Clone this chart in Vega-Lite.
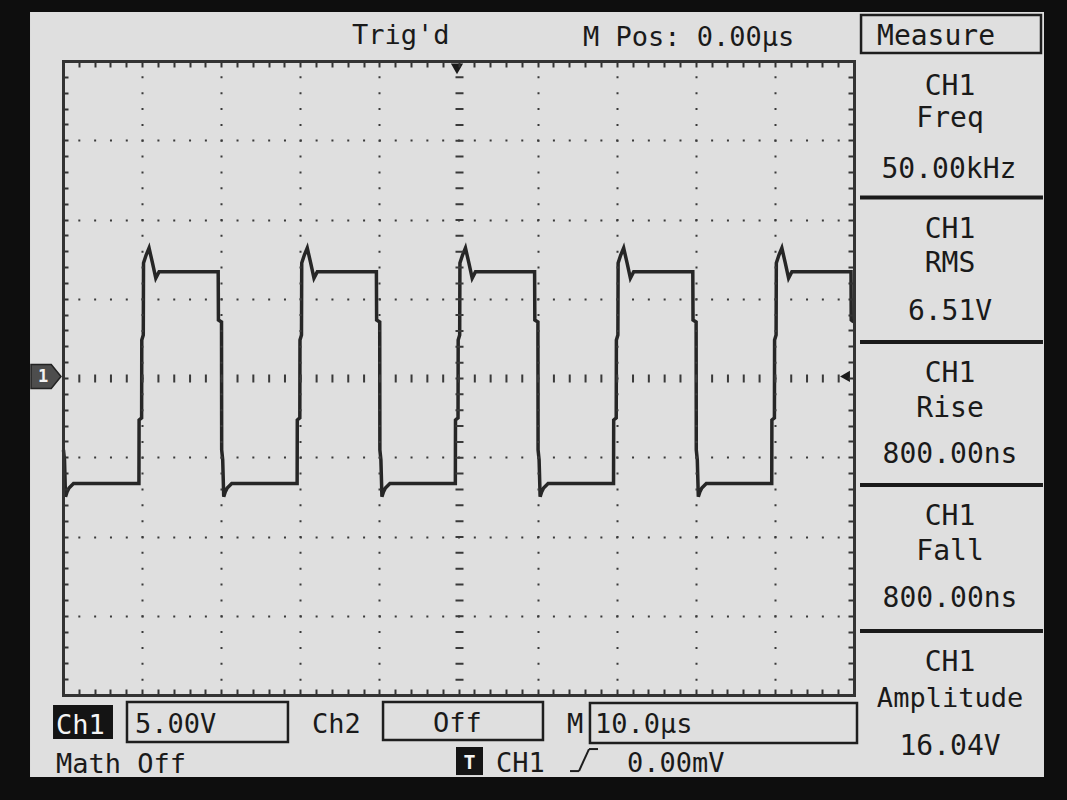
{
  "$schema": "https://vega.github.io/schema/vega-lite/v6.json",
  "width": 791,
  "height": 634,
  "autosize": {"type": "none"},
  "padding": {"left": 63, "top": 61, "right": 213, "bottom": 105},
  "background": "#0e0e0e",
  "data": {"values": [{"screen": "UTD oscilloscope"}]},
  "config": {
    "view": {"stroke": null},
    "text": {"font": "DejaVu Sans Mono", "fontSize": 27, "color": "#1a1a1a", "baseline": "alphabetic"}
  },
  "resolve": {"axis": {"x": "independent", "y": "independent"}},
  "layer": [
    {
      "mark": {"type": "rect", "fill": "#dfdfdf"},
      "encoding": {
        "x": {"datum": -54.17, "axis": null}, "x2": {"datum": 74.02},
        "y": {"datum": 23.09, "axis": null}, "y2": {"datum": -25.17}
      }
    },
    {
      "data": {"values": [
        {"t": -49.94, "v": -4.54}, {"t": -49.81, "v": -5.17}, {"t": -49.68, "v": -7.49}, {"t": -49.49, "v": -7.19}, {"t": -49.24, "v": -6.94}, {"t": -48.67, "v": -6.66},
        {"t": -40.40, "v": -6.66}, {"t": -40.38, "v": -2.65}, {"t": -40.06, "v": -2.52}, {"t": -40.04, "v": 2.40}, {"t": -39.85, "v": 2.71}, {"t": -39.82, "v": 7.26}, {"t": -39.49, "v": 7.76}, {"t": -39.12, "v": 8.20}, {"t": -38.69, "v": 7.26}, {"t": -38.27, "v": 6.30}, {"t": -37.85, "v": 6.71},
        {"t": -30.38, "v": 6.71}, {"t": -30.35, "v": 3.66}, {"t": -29.96, "v": 3.53}, {"t": -29.94, "v": -4.54}, {"t": -29.81, "v": -5.17}, {"t": -29.68, "v": -7.49}, {"t": -29.49, "v": -7.19}, {"t": -29.24, "v": -6.94}, {"t": -28.67, "v": -6.66},
        {"t": -20.40, "v": -6.66}, {"t": -20.38, "v": -2.65}, {"t": -20.06, "v": -2.52}, {"t": -20.04, "v": 2.40}, {"t": -19.85, "v": 2.71}, {"t": -19.82, "v": 7.26}, {"t": -19.49, "v": 7.76}, {"t": -19.12, "v": 8.20}, {"t": -18.69, "v": 7.26}, {"t": -18.27, "v": 6.30}, {"t": -17.85, "v": 6.71},
        {"t": -10.38, "v": 6.71}, {"t": -10.35, "v": 3.66}, {"t": -9.96, "v": 3.53}, {"t": -9.94, "v": -4.54}, {"t": -9.81, "v": -5.17}, {"t": -9.68, "v": -7.49}, {"t": -9.49, "v": -7.19}, {"t": -9.24, "v": -6.94}, {"t": -8.67, "v": -6.66},
        {"t": -0.40, "v": -6.66}, {"t": -0.38, "v": -2.65}, {"t": -0.06, "v": -2.52}, {"t": -0.04, "v": 2.40}, {"t": 0.15, "v": 2.71}, {"t": 0.18, "v": 7.26}, {"t": 0.51, "v": 7.76}, {"t": 0.88, "v": 8.20}, {"t": 1.31, "v": 7.26}, {"t": 1.73, "v": 6.30}, {"t": 2.15, "v": 6.71},
        {"t": 9.62, "v": 6.71}, {"t": 9.65, "v": 3.66}, {"t": 10.04, "v": 3.53}, {"t": 10.06, "v": -4.54}, {"t": 10.19, "v": -5.17}, {"t": 10.32, "v": -7.49}, {"t": 10.51, "v": -7.19}, {"t": 10.76, "v": -6.94}, {"t": 11.33, "v": -6.66},
        {"t": 19.60, "v": -6.66}, {"t": 19.62, "v": -2.65}, {"t": 19.94, "v": -2.52}, {"t": 19.96, "v": 2.40}, {"t": 20.15, "v": 2.71}, {"t": 20.18, "v": 7.26}, {"t": 20.51, "v": 7.76}, {"t": 20.88, "v": 8.20}, {"t": 21.31, "v": 7.26}, {"t": 21.73, "v": 6.30}, {"t": 22.15, "v": 6.71},
        {"t": 29.62, "v": 6.71}, {"t": 29.65, "v": 3.66}, {"t": 30.04, "v": 3.53}, {"t": 30.06, "v": -4.54}, {"t": 30.19, "v": -5.17}, {"t": 30.32, "v": -7.49}, {"t": 30.51, "v": -7.19}, {"t": 30.76, "v": -6.94}, {"t": 31.33, "v": -6.66},
        {"t": 39.60, "v": -6.66}, {"t": 39.62, "v": -2.65}, {"t": 39.94, "v": -2.52}, {"t": 39.96, "v": 2.40}, {"t": 40.15, "v": 2.71}, {"t": 40.18, "v": 7.26}, {"t": 40.51, "v": 7.76}, {"t": 40.88, "v": 8.20}, {"t": 41.31, "v": 7.26}, {"t": 41.73, "v": 6.30}, {"t": 42.15, "v": 6.71},
        {"t": 49.62, "v": 6.71}, {"t": 49.65, "v": 3.66}, {"t": 49.95, "v": 3.53}
      ]},
      "mark": {"type": "line", "strokeWidth": 3.5, "color": "#262626", "strokeJoin": "miter"},
      "encoding": {
        "x": {
          "field": "t", "type": "quantitative",
          "scale": {"domain": [-50, 50], "nice": false, "zero": false},
          "axis": {
            "orient": "bottom", "title": null, "labels": false, "grid": false, "zindex": 1,
            "values": [-50,-48,-46,-44,-42,-40,-38,-36,-34,-32,-30,-28,-26,-24,-22,-20,-18,-16,-14,-12,-10,-8,-6,-4,-2,0,2,4,6,8,10,12,14,16,18,20,22,24,26,28,30,32,34,36,38,40,42,44,46,48,50],
            "ticks": true, "tickSize": -6, "tickWidth": 2, "tickColor": "#333333",
            "domain": true, "domainColor": "#333333", "domainWidth": 3, "domainCap": "square"
          }
        },
        "y": {
          "field": "v", "type": "quantitative",
          "scale": {"domain": [-20, 20], "nice": false, "zero": false},
          "axis": {
            "orient": "left", "title": null, "labels": false, "grid": false, "zindex": 1,
            "values": [-20,-19,-18,-17,-16,-15,-14,-13,-12,-11,-10,-9,-8,-7,-6,-5,-4,-3,-2,-1,0,1,2,3,4,5,6,7,8,9,10,11,12,13,14,15,16,17,18,19,20],
            "ticks": true, "tickSize": -5, "tickWidth": 2, "tickColor": "#333333",
            "domain": true, "domainColor": "#333333", "domainWidth": 3, "domainCap": "square"
          }
        }
      }
    },
    {
      "mark": {"type": "point", "shape": "triangle-down", "size": 150, "filled": true, "color": "#1a1a1a", "opacity": 1},
      "encoding": {
        "x": {
          "datum": -0.19,
          "axis": {
            "orient": "top", "title": null, "labels": false, "grid": false, "zindex": 1,
            "values": [-50,-48,-46,-44,-42,-40,-38,-36,-34,-32,-30,-28,-26,-24,-22,-20,-18,-16,-14,-12,-10,-8,-6,-4,-2,0,2,4,6,8,10,12,14,16,18,20,22,24,26,28,30,32,34,36,38,40,42,44,46,48,50],
            "ticks": true, "tickSize": -6, "tickWidth": 2, "tickColor": "#333333",
            "domain": true, "domainColor": "#333333", "domainWidth": 3, "domainCap": "square"
          }
        },
        "y": {
          "datum": 19.5,
          "axis": {
            "orient": "right", "title": null, "labels": false, "grid": false, "zindex": 1,
            "values": [-20,-19,-18,-17,-16,-15,-14,-13,-12,-11,-10,-9,-8,-7,-6,-5,-4,-3,-2,-1,0,1,2,3,4,5,6,7,8,9,10,11,12,13,14,15,16,17,18,19,20],
            "ticks": true, "tickSize": -6, "tickWidth": 2, "tickColor": "#333333",
            "domain": true, "domainColor": "#333333", "domainWidth": 3, "domainCap": "square"
          }
        }
      }
    },
    {
      "mark": {"type": "point", "shape": "triangle-left", "size": 130, "filled": true, "color": "#1a1a1a", "opacity": 1},
      "encoding": {
        "x": {
          "datum": 48.86,
          "axis": {
            "orient": "bottom", "title": null, "labels": false, "ticks": false, "domain": false, "zindex": 1,
            "values": [-40, -30, -20, -10, 0, 10, 20, 30, 40],
            "grid": true, "gridColor": "#3a3a3a", "gridOpacity": 1,
            "gridDash": [2, 13.85], "gridDashOffset": 1,
            "gridWidth": {"condition": {"test": "datum.value === 0", "value": 8}, "value": 2}
          }
        },
        "y": {
          "datum": 0.1,
          "axis": {
            "orient": "left", "title": null, "labels": false, "ticks": false, "domain": false, "zindex": 1,
            "values": [-15, -10, -5, 0, 5, 10, 15],
            "grid": true, "gridColor": "#3a3a3a", "gridOpacity": 1,
            "gridDash": [2, 13.82], "gridDashOffset": 1,
            "gridWidth": {"condition": {"test": "datum.value === 0", "value": 8}, "value": 2}
          }
        }
      }
    },
    {
      "mark": {"type": "point", "shape": "M-1,-0.8L0.35,-0.8L1,0L0.35,0.8L-1,0.8Z", "size": 900, "filled": true, "fill": "#4d4d4d", "stroke": "#222222", "strokeWidth": 1.5, "opacity": 1},
      "encoding": {"x": {"datum": -52.15, "axis": null}, "y": {"datum": 0.09, "axis": null}}
    },
    {
      "mark": {"type": "text", "text": "1", "align": "center", "baseline": "middle", "fontSize": 17, "fontWeight": "bold", "color": "#f2f2f2"},
      "encoding": {"x": {"datum": -52.5, "axis": null}, "y": {"datum": 0.09, "axis": null}}
    },
    {
      "mark": {"type": "text", "text": "Trig'd", "align": "left"},
      "encoding": {"x": {"datum": -13.46, "axis": null}, "y": {"datum": 21.07, "axis": null}}
    },
    {
      "mark": {"type": "text", "text": "M Pos: 0.00µs", "align": "left"},
      "encoding": {"x": {"datum": 15.74, "axis": null}, "y": {"datum": 20.95, "axis": null}}
    },
    {
      "mark": {"type": "rect", "fill": "transparent", "stroke": "#1e1e1e", "strokeWidth": 2.5},
      "encoding": {"x": {"datum": 50.89, "axis": null}, "x2": {"datum": 73.64}, "y": {"datum": 22.90, "axis": null}, "y2": {"datum": 20.50}}
    },
    {
      "mark": {"type": "text", "text": "Measure", "align": "left", "fontSize": 28},
      "encoding": {"x": {"datum": 52.91, "axis": null}, "y": {"datum": 21.04, "axis": null}}
    },
    {"mark": {"type": "text", "text": "CH1", "align": "center", "fontSize": 28}, "encoding": {"x": {"datum": 62.14, "axis": null}, "y": {"datum": 17.85, "axis": null}}},
    {"mark": {"type": "text", "text": "Freq", "align": "center", "fontSize": 28}, "encoding": {"x": {"datum": 62.14, "axis": null}, "y": {"datum": 15.84, "axis": null}}},
    {"mark": {"type": "text", "text": "50.00kHz", "align": "center", "fontSize": 28}, "encoding": {"x": {"datum": 62.0, "axis": null}, "y": {"datum": 12.62, "axis": null}}},
    {"mark": {"type": "text", "text": "CH1", "align": "center", "fontSize": 28}, "encoding": {"x": {"datum": 62.14, "axis": null}, "y": {"datum": 8.83, "axis": null}}},
    {"mark": {"type": "text", "text": "RMS", "align": "center", "fontSize": 28}, "encoding": {"x": {"datum": 62.14, "axis": null}, "y": {"datum": 6.69, "axis": null}}},
    {"mark": {"type": "text", "text": "6.51V", "align": "center", "fontSize": 28}, "encoding": {"x": {"datum": 62.14, "axis": null}, "y": {"datum": 3.66, "axis": null}}},
    {"mark": {"type": "text", "text": "CH1", "align": "center", "fontSize": 28}, "encoding": {"x": {"datum": 62.14, "axis": null}, "y": {"datum": -0.25, "axis": null}}},
    {"mark": {"type": "text", "text": "Rise", "align": "center", "fontSize": 28}, "encoding": {"x": {"datum": 62.14, "axis": null}, "y": {"datum": -2.46, "axis": null}}},
    {"mark": {"type": "text", "text": "800.00ns", "align": "center", "fontSize": 28}, "encoding": {"x": {"datum": 62.14, "axis": null}, "y": {"datum": -5.36, "axis": null}}},
    {"mark": {"type": "text", "text": "CH1", "align": "center", "fontSize": 28}, "encoding": {"x": {"datum": 62.14, "axis": null}, "y": {"datum": -9.27, "axis": null}}},
    {"mark": {"type": "text", "text": "Fall", "align": "center", "fontSize": 28}, "encoding": {"x": {"datum": 62.14, "axis": null}, "y": {"datum": -11.48, "axis": null}}},
    {"mark": {"type": "text", "text": "800.00ns", "align": "center", "fontSize": 28}, "encoding": {"x": {"datum": 62.14, "axis": null}, "y": {"datum": -14.45, "axis": null}}},
    {"mark": {"type": "text", "text": "CH1", "align": "center", "fontSize": 28}, "encoding": {"x": {"datum": 62.14, "axis": null}, "y": {"datum": -18.49, "axis": null}}},
    {"mark": {"type": "text", "text": "Amplitude", "align": "center"}, "encoding": {"x": {"datum": 62.14, "axis": null}, "y": {"datum": -20.76, "axis": null}}},
    {"mark": {"type": "text", "text": "16.04V", "align": "center", "fontSize": 28}, "encoding": {"x": {"datum": 62.14, "axis": null}, "y": {"datum": -23.79, "axis": null}}},
    {"mark": {"type": "rule", "strokeWidth": 4, "color": "#1a1a1a"}, "encoding": {"x": {"datum": 50.76, "axis": null}, "x2": {"datum": 73.89}, "y": {"datum": 11.39, "axis": null}}},
    {"mark": {"type": "rule", "strokeWidth": 4, "color": "#1a1a1a"}, "encoding": {"x": {"datum": 50.76, "axis": null}, "x2": {"datum": 73.89}, "y": {"datum": 2.27, "axis": null}}},
    {"mark": {"type": "rule", "strokeWidth": 4, "color": "#1a1a1a"}, "encoding": {"x": {"datum": 50.76, "axis": null}, "x2": {"datum": 73.89}, "y": {"datum": -6.75, "axis": null}}},
    {"mark": {"type": "rule", "strokeWidth": 4, "color": "#1a1a1a"}, "encoding": {"x": {"datum": 50.76, "axis": null}, "x2": {"datum": 73.89}, "y": {"datum": -15.96, "axis": null}}},
    {
      "mark": {"type": "rect", "fill": "#141414"},
      "encoding": {"x": {"datum": -51.26, "axis": null}, "x2": {"datum": -43.68}, "y": {"datum": -20.63, "axis": null}, "y2": {"datum": -22.78}}
    },
    {"mark": {"type": "text", "text": "Ch1", "align": "left", "color": "#f4f4f4"}, "encoding": {"x": {"datum": -50.89, "axis": null}, "y": {"datum": -22.46, "axis": null}}},
    {
      "mark": {"type": "rect", "fill": "transparent", "stroke": "#1e1e1e", "strokeWidth": 2.5},
      "encoding": {"x": {"datum": -41.91, "axis": null}, "x2": {"datum": -21.56}, "y": {"datum": -20.44, "axis": null}, "y2": {"datum": -22.97}}
    },
    {"mark": {"type": "text", "text": "5.00V", "align": "left"}, "encoding": {"x": {"datum": -40.90, "axis": null}, "y": {"datum": -22.40, "axis": null}}},
    {"mark": {"type": "text", "text": "Ch2", "align": "left"}, "encoding": {"x": {"datum": -18.52, "axis": null}, "y": {"datum": -22.40, "axis": null}}},
    {
      "mark": {"type": "rect", "fill": "transparent", "stroke": "#1e1e1e", "strokeWidth": 2.5},
      "encoding": {"x": {"datum": -9.54, "axis": null}, "x2": {"datum": 10.68}, "y": {"datum": -20.44, "axis": null}, "y2": {"datum": -22.84}}
    },
    {"mark": {"type": "text", "text": "Off", "align": "left"}, "encoding": {"x": {"datum": -3.22, "axis": null}, "y": {"datum": -22.33, "axis": null}}},
    {"mark": {"type": "text", "text": "M", "align": "left"}, "encoding": {"x": {"datum": 13.72, "axis": null}, "y": {"datum": -22.40, "axis": null}}},
    {
      "mark": {"type": "rect", "fill": "transparent", "stroke": "#1e1e1e", "strokeWidth": 2.5},
      "encoding": {"x": {"datum": 16.62, "axis": null}, "x2": {"datum": 50.38}, "y": {"datum": -20.50, "axis": null}, "y2": {"datum": -23.03}}
    },
    {"mark": {"type": "text", "text": "10.0µs", "align": "left"}, "encoding": {"x": {"datum": 17.26, "axis": null}, "y": {"datum": -22.40, "axis": null}}},
    {"mark": {"type": "text", "text": "Math Off", "align": "left"}, "encoding": {"x": {"datum": -50.89, "axis": null}, "y": {"datum": -24.92, "axis": null}}},
    {
      "mark": {"type": "rect", "fill": "#141414"},
      "encoding": {"x": {"datum": -0.32, "axis": null}, "x2": {"datum": 3.10}, "y": {"datum": -23.28, "axis": null}, "y2": {"datum": -25.05}}
    },
    {"mark": {"type": "text", "text": "T", "align": "center", "fontSize": 20, "fontWeight": "bold", "color": "#f4f4f4"}, "encoding": {"x": {"datum": 1.39, "axis": null}, "y": {"datum": -24.68, "axis": null}}},
    {"mark": {"type": "text", "text": "CH1", "align": "left"}, "encoding": {"x": {"datum": 4.74, "axis": null}, "y": {"datum": -24.86, "axis": null}}},
    {"mark": {"type": "rule", "strokeWidth": 2, "color": "#1e1e1e"}, "encoding": {"x": {"datum": 14.10, "axis": null}, "x2": {"datum": 15.23}, "y": {"datum": -24.80, "axis": null}, "y2": {"datum": -24.80}}},
    {"mark": {"type": "rule", "strokeWidth": 2, "color": "#1e1e1e"}, "encoding": {"x": {"datum": 15.23, "axis": null}, "x2": {"datum": 16.50}, "y": {"datum": -24.80, "axis": null}, "y2": {"datum": -23.41}}},
    {"mark": {"type": "rule", "strokeWidth": 2, "color": "#1e1e1e"}, "encoding": {"x": {"datum": 16.50, "axis": null}, "x2": {"datum": 17.64}, "y": {"datum": -23.41, "axis": null}, "y2": {"datum": -23.41}}},
    {"mark": {"type": "text", "text": "0.00mV", "align": "left"}, "encoding": {"x": {"datum": 21.30, "axis": null}, "y": {"datum": -24.86, "axis": null}}}
  ]
}
